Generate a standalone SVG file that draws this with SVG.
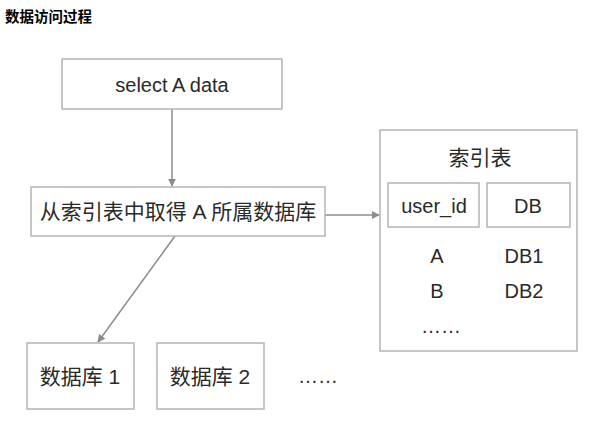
<svg xmlns="http://www.w3.org/2000/svg" width="595" height="428" viewBox="0 0 595 428">
<style>
.box{fill:#fff;stroke:#b4b4b4;stroke-width:1.5}
.t{font-family:"Liberation Sans","Noto Sans CJK SC",sans-serif;font-size:20px;fill:#2a2a2a;text-anchor:middle}
.z{font-size:21px}
.c{stroke:#8c8c8c;stroke-width:1.5;fill:none}
</style>
<defs>
<marker id="ah" viewBox="0 0 10 10" refX="9" refY="5" markerWidth="8" markerHeight="8" markerUnits="userSpaceOnUse" orient="auto">
<path d="M0,0 L10,5 L0,10 z" fill="#8c8c8c"/>
</marker>
</defs>
<rect width="595" height="428" fill="#fff"/>
<text x="5" y="22" font-family="'Noto Sans CJK SC',sans-serif" font-size="14.5" font-weight="bold" fill="#000">数据访问过程</text>
<g id="connectors">
<line class="c" x1="172" y1="109" x2="172" y2="186" marker-end="url(#ah)"/>
<line class="c" x1="325" y1="215" x2="379" y2="215" marker-end="url(#ah)"/>
<line class="c" x1="175" y1="236" x2="98" y2="342" marker-end="url(#ah)"/>
</g>
<g id="select">
<rect class="box" x="62" y="59" width="220" height="50"/>
<text class="t" x="172" y="92">select A data</text>
</g>
<g id="lookup">
<rect class="box" x="31" y="187" width="294" height="49"/>
<text class="t z" x="178" y="219">从索引表中取得 A 所属数据库</text>
</g>
<g id="index">
<rect class="box" x="380" y="130" width="197" height="221"/>
<text class="t z" x="480" y="165">索引表</text>
<rect class="box" x="388" y="183" width="91" height="44"/>
<text class="t" x="434" y="213">user_id</text>
<rect class="box" x="487" y="183" width="83" height="44"/>
<text class="t" x="528" y="213">DB</text>
<text class="t" x="437" y="263">A</text>
<text class="t" x="524" y="263">DB1</text>
<text class="t" x="437" y="298">B</text>
<text class="t" x="524" y="298">DB2</text>
<text class="t" x="441" y="333">……</text>
</g>
<g id="db1">
<rect class="box" x="27" y="343" width="107" height="66"/>
<text class="t z" x="80" y="384">数据库 1</text>
</g>
<g id="db2">
<rect class="box" x="157" y="343" width="107" height="66"/>
<text class="t z" x="210" y="384">数据库 2</text>
</g>
<g id="more">
<text class="t" x="318" y="383">……</text>
</g>
</svg>
